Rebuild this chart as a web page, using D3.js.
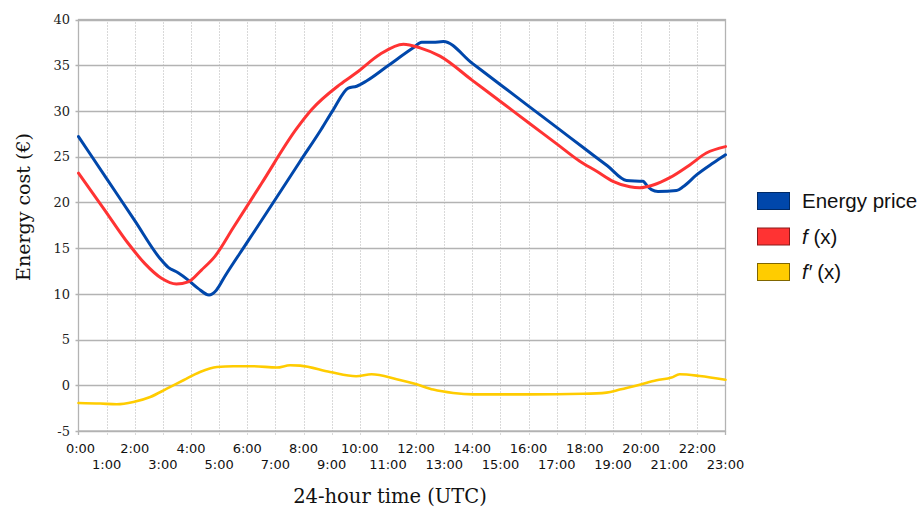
<!DOCTYPE html>
<html><head><meta charset="utf-8">
<script src="https://cdn.jsdelivr.net/npm/d3@7"></script>
<style>
html,body{margin:0;padding:0;background:#fff;}
svg{display:block;}
</style></head>
<body>
<svg id="chart" width="922" height="509"></svg>
<script>
// ---- data (hour of day, value in €) ----
const hourTicks = d3.range(0, 24);
const yTicks = [-5, 0, 5, 10, 15, 20, 25, 30, 35, 40];
const seriesNames = ["Energy price", "f (x)", "f′ (x)"];

const priceHours = [0, 1, 2, 2.89, 3.19, 3.54, 3.90, 4.25, 4.64, 4.90, 5.20, 6, 7, 7.88, 8.63, 9.06, 9.59, 9.89, 10.25, 11, 11.90, 12.20, 12.61, 12.97, 14, 15, 16, 17, 18, 18.8, 19.48, 20.07, 20.19, 20.37, 20.60, 21.26, 21.49, 21.97, 22.56, 23.0];
const priceValues = [27.2, 22.6, 18.0, 13.9, 12.9, 12.3, 11.5, 10.6, 9.87, 10.4, 11.9, 15.65, 20.34, 24.5, 28.0, 30.15, 32.5, 32.7, 33.3, 34.94, 36.9, 37.5, 37.5, 37.6, 35.2, 32.87, 30.53, 28.2, 25.86, 24.0, 22.4, 22.3, 21.9, 21.4, 21.2, 21.3, 21.7, 23.0, 24.3, 25.2];

const fHours = [0, 0.9, 1.77, 2.36, 2.95, 3.48, 3.90, 4.37, 4.85, 5.5, 6.5, 7.74, 8.29, 9.30, 9.89, 10.72, 11.55, 12.14, 12.85, 14, 15, 16, 17, 17.82, 18.42, 19.0, 19.6, 19.95, 20.43, 21.02, 21.73, 22.32, 23.0];
const fValues = [23.2, 19.3, 15.5, 13.3, 11.7, 11.07, 11.3, 12.6, 14.1, 17.23, 22.04, 28.0, 30.15, 32.9, 34.2, 36.2, 37.3, 36.9, 36.0, 33.34, 31.03, 28.71, 26.4, 24.5, 23.4, 22.3, 21.7, 21.6, 21.9, 22.7, 24.1, 25.4, 26.1];

const dfHours = [0, 0.77, 1.36, 1.95, 2.55, 3.14, 3.73, 4.32, 4.92, 5.51, 6.22, 7.05, 7.52, 7.88, 8.94, 9.87, 10.42, 11.31, 12.02, 12.61, 13.32, 14.03, 16.05, 17.94, 18.77, 19.24, 19.95, 20.55, 21.08, 21.37, 22.08, 23.0];
const dfValues = [-1.94, -2.0, -2.08, -1.83, -1.28, -0.37, 0.55, 1.46, 2.0, 2.08, 2.08, 1.94, 2.19, 2.15, 1.46, 0.99, 1.2, 0.66, 0.1, -0.47, -0.84, -0.99, -1.0, -0.93, -0.8, -0.47, 0.07, 0.55, 0.84, 1.2, 1.02, 0.6];

const colors = ["#0047ab", "#ff3333", "#ffcc00"];
const legendBorder = ["#002a66", "#8a1a1a", "#806600"];

// ---- layout ----
const svg = d3.select("#chart");
const L = 78.5, R = 725.5, T = 19.5, B = 431;
const x = d3.scaleLinear().domain([0, 23]).range([L, R]);
const y = d3.scaleLinear().domain([-5, 40]).range([B, T]);
const gridCol = "#b3b3b3";

// vertical dotted grid
svg.append("g").selectAll("line").data(hourTicks.filter(h => h > 0 && h < 23)).join("line")
  .attr("x1", d => Math.round(x(d)) + 0.5).attr("x2", d => Math.round(x(d)) + 0.5)
  .attr("y1", T).attr("y2", B + 4)
  .attr("stroke", gridCol).attr("stroke-width", 1).attr("stroke-dasharray", "1,2");

// horizontal grid
svg.append("g").selectAll("line").data(yTicks).join("line")
  .attr("x1", L - 3).attr("x2", R)
  .attr("y1", d => Math.round(y(d)) + 0.5).attr("y2", d => Math.round(y(d)) + 0.5)
  .attr("stroke", gridCol).attr("stroke-width", 1.3);

// frame
svg.append("rect").attr("x", L).attr("y", T).attr("width", R - L).attr("height", B - T)
  .attr("fill", "none").attr("stroke", gridCol).attr("stroke-width", 1.3);

// x tick marks at ends
svg.append("g").selectAll("line").data([0, 23]).join("line")
  .attr("x1", d => x(d)).attr("x2", d => x(d)).attr("y1", B).attr("y2", B + 4)
  .attr("stroke", gridCol).attr("stroke-width", 1.3);

// y tick labels
svg.append("g").selectAll("text").data(yTicks).join("text")
  .attr("x", 70).attr("y", d => y(d)).attr("dy", "0.36em")
  .attr("text-anchor", "end")
  .attr("font-family", "DejaVu Serif").attr("font-size", 13).attr("fill", "#222")
  .text(d => d);

// x tick labels (two staggered rows)
svg.append("g").selectAll("text").data(hourTicks).join("text")
  .attr("x", d => d === 0 ? x(d) + 2 : x(d))
  .attr("y", d => d % 2 === 0 ? 452.5 : 468.5)
  .attr("text-anchor", "middle")
  .attr("font-family", "DejaVu Sans").attr("font-size", 13).attr("fill", "#111")
  .text(d => d + ":00");

// axis titles
svg.append("text").attr("x", 390).attr("y", 503).attr("text-anchor", "middle")
  .attr("font-family", "DejaVu Serif").attr("font-size", 19.5).attr("fill", "#111")
  .text("24-hour time (UTC)");
svg.append("text").attr("transform", "translate(29.5,207) rotate(-90)").attr("text-anchor", "middle")
  .attr("font-family", "DejaVu Serif").attr("font-size", 19).attr("fill", "#111")
  .text("Energy cost (€)");

// lines
const line = d3.line().x(d => x(d[0])).y(d => y(d[1])).curve(d3.curveMonotoneX);
const seriesData = [
  d3.zip(priceHours, priceValues),
  d3.zip(fHours, fValues),
  d3.zip(dfHours, dfValues)
];
const widths = [3, 3, 2.6];
// draw order: yellow, blue, red
[2, 0, 1].forEach(i => {
  svg.append("path").datum(seriesData[i]).attr("d", line)
    .attr("fill", "none").attr("stroke", colors[i]).attr("stroke-width", widths[i])
    .attr("stroke-linejoin", "round").attr("stroke-linecap", "round");
});

// legend
const lg = svg.append("g");
const ly = [192, 227.5, 263];
seriesNames.forEach((name, i) => {
  lg.append("rect").attr("x", 757.5).attr("y", ly[i] + 0.5).attr("width", 32).attr("height", 17)
    .attr("fill", colors[i]).attr("stroke", legendBorder[i]).attr("stroke-width", 1);
  const t = lg.append("text").attr("x", 802).attr("y", ly[i] + 9).attr("dy", "0.36em")
    .attr("font-family", "Liberation Sans").attr("font-size", 20.5).attr("fill", "#111");
  if (i === 0) t.text(name);
  else {
    const parts = name.split(" ");
    t.append("tspan").attr("font-style", "italic").text(parts[0]);
    t.append("tspan").text(" " + parts[1]);
  }
});
</script>
</body></html>
